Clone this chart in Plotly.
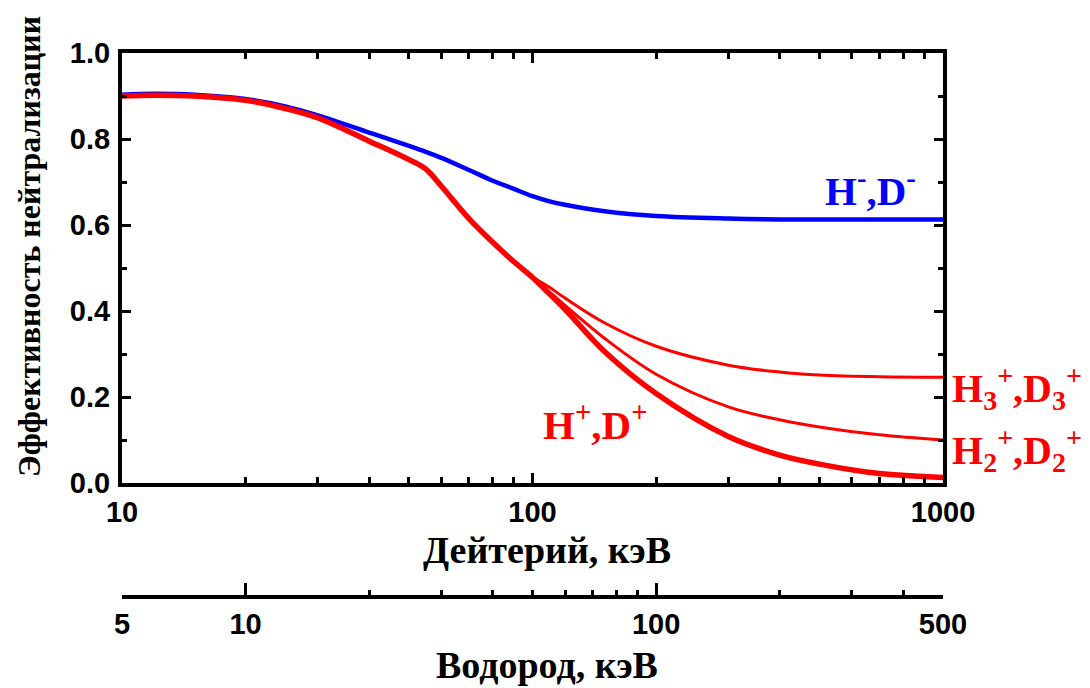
import math
import plotly.graph_objects as go

# ---------------- data ----------------
# Deuterium energy, keV
energy_d = [10, 12, 15, 20, 25, 30, 40, 50, 55, 60, 70, 80, 90, 100, 110, 120, 150, 200, 300, 400, 500, 700, 1000]

# Neutralization efficiency
h_minus = [0.903, 0.905, 0.903, 0.893, 0.876, 0.855, 0.815, 0.784, 0.770, 0.756, 0.728, 0.703, 0.684, 0.667, 0.655, 0.647, 0.632, 0.621, 0.615, 0.613, 0.613, 0.613, 0.613]
h_plus = [0.900, 0.902, 0.900, 0.890, 0.871, 0.849, 0.795, 0.752, 0.730, 0.690, 0.615, 0.560, 0.515, 0.478, 0.440, 0.404, 0.305, 0.208, 0.108, 0.065, 0.044, 0.022, 0.013]
h2_plus = [0.900, 0.902, 0.900, 0.890, 0.871, 0.849, 0.795, 0.752, 0.730, 0.690, 0.615, 0.560, 0.515, 0.478, 0.444, 0.413, 0.336, 0.253, 0.177, 0.147, 0.130, 0.112, 0.100]
h3_plus = [0.900, 0.902, 0.900, 0.890, 0.871, 0.849, 0.795, 0.752, 0.730, 0.690, 0.615, 0.560, 0.515, 0.480, 0.455, 0.430, 0.372, 0.318, 0.274, 0.258, 0.251, 0.247, 0.246]

# Axes ticks
d_ticks = [10, 100, 1000]
d_ticktext = ["10", "100", "1000"]
d_minor = [20, 30, 40, 50, 60, 70, 80, 90, 200, 300, 400, 500, 600, 700, 800, 900]
h_ticks = [5, 10, 100, 500]
h_ticktext = ["5", "10", "100", "500"]
h_minor = [20, 30, 40, 50, 60, 70, 80, 90, 200, 300, 400]
y_ticks = [0.0, 0.2, 0.4, 0.6, 0.8, 1.0]
y_ticktext = ["0.0", "0.2", "0.4", "0.6", "0.8", "1.0"]
y_minor = [0.1, 0.3, 0.5, 0.7, 0.9]

# ---------------- layout geometry ----------------
W, H = 1090, 688
ML, MR, MT, MB = 122, 147, 53, 0
PW, PH = W - ML - MR, H - MT - MB


def px_x(px):
    return (px - ML) / PW


def px_y(py):
    return (H - MB - py) / PH


RED = "#ff0000"
BLUE = "#0000ff"
SERIF = "Liberation Serif, Times New Roman, serif"
SANS = "Liberation Sans, Arial, sans-serif"

fig = go.Figure()

fig.add_trace(go.Scatter(x=energy_d, y=h_minus, mode="lines", line=dict(color=BLUE, width=4.5, shape="spline"),
                         showlegend=False, hoverinfo="skip"))
fig.add_trace(go.Scatter(x=energy_d, y=h3_plus, mode="lines", line=dict(color=RED, width=3, shape="spline"),
                         showlegend=False, hoverinfo="skip"))
fig.add_trace(go.Scatter(x=energy_d, y=h2_plus, mode="lines", line=dict(color=RED, width=3, shape="spline"),
                         showlegend=False, hoverinfo="skip"))
fig.add_trace(go.Scatter(x=energy_d, y=h_plus, mode="lines", line=dict(color=RED, width=5.5, shape="spline"),
                         showlegend=False, hoverinfo="skip"))
# carrier trace for the hydrogen energy axis
fig.add_trace(go.Scatter(x=[h_ticks[0], h_ticks[-1]], y=[None, None], xaxis="x2", mode="lines",
                         showlegend=False, hoverinfo="skip"))

tickfont = dict(family=SANS, size=29, color="black", weight="bold")

fig.update_layout(
    width=W, height=H,
    margin=dict(l=ML, r=MR, t=MT, b=MB, autoexpand=False),
    paper_bgcolor="white", plot_bgcolor="white",
    xaxis=dict(type="log", range=[1, 3], domain=[0, 1], anchor="y", automargin=False,
               tickvals=d_ticks, ticktext=d_ticktext, tickfont=tickfont,
               ticks="inside", ticklen=10, tickwidth=3, tickcolor="black",
               showline=True, linewidth=4, linecolor="black", mirror="ticks",
               showgrid=False, zeroline=False,
               minor=dict(tickvals=d_minor, ticks="inside", ticklen=6, tickwidth=3, tickcolor="black",
                          showgrid=False)),
    yaxis=dict(range=[0, 1], domain=[px_y(483), 1], anchor="x", automargin=False,
               tickvals=y_ticks, ticktext=y_ticktext, tickfont=tickfont, ticklabelstandoff=2,
               ticks="inside", ticklen=9, tickwidth=3, tickcolor="black",
               showline=True, linewidth=4, linecolor="black", mirror="ticks",
               showgrid=False, zeroline=False,
               minor=dict(tickvals=y_minor, ticks="inside", ticklen=5, tickwidth=3, tickcolor="black",
                          showgrid=False)),
    xaxis2=dict(type="log", range=[math.log10(5), math.log10(500)], overlaying="x", anchor="free",
                position=px_y(597), side="bottom", automargin=False,
                tickvals=h_ticks, ticktext=h_ticktext, tickfont=tickfont,
                ticks="inside", ticklen=12, tickwidth=3, tickcolor="black",
                showline=True, linewidth=4, linecolor="black",
                showgrid=False, zeroline=False,
                minor=dict(tickvals=h_minor, ticks="inside", ticklen=5, tickwidth=3, tickcolor="black",
                           showgrid=False)),
)

annotations = [
    dict(text="Дейтерий, кэВ", x=px_x(547), y=px_y(550), font=dict(family=SERIF, size=38, color="black", weight="bold")),
    dict(text="Водород, кэВ", x=px_x(547), y=px_y(665), font=dict(family=SERIF, size=38, color="black", weight="bold")),
    dict(text="Эффективность нейтрализации", x=px_x(29), y=px_y(247), textangle=-90,
         font=dict(family=SERIF, size=32, color="black", weight="bold")),
    dict(text="H<sup>-</sup>,D<sup>-</sup>", x=px_x(870), y=px_y(188),
         font=dict(family=SERIF, size=41, color=BLUE, weight="bold")),
    dict(text="H<sup>+</sup>,D<sup>+</sup>", x=px_x(595), y=px_y(422),
         font=dict(family=SERIF, size=41, color=RED, weight="bold")),
    dict(text="H<sub>3</sub><sup>+</sup>,D<sub>3</sub><sup>+</sup>", x=px_x(950), y=px_y(388), xanchor="left",
         font=dict(family=SERIF, size=40, color=RED, weight="bold")),
    dict(text="H<sub>2</sub><sup>+</sup>,D<sub>2</sub><sup>+</sup>", x=px_x(950), y=px_y(450), xanchor="left",
         font=dict(family=SERIF, size=40, color=RED, weight="bold")),
]
for a in annotations:
    a.setdefault("xanchor", "center")
    a.update(xref="paper", yref="paper", yanchor="middle", showarrow=False)
fig.update_layout(annotations=annotations)

fig.write_html("out.html")
